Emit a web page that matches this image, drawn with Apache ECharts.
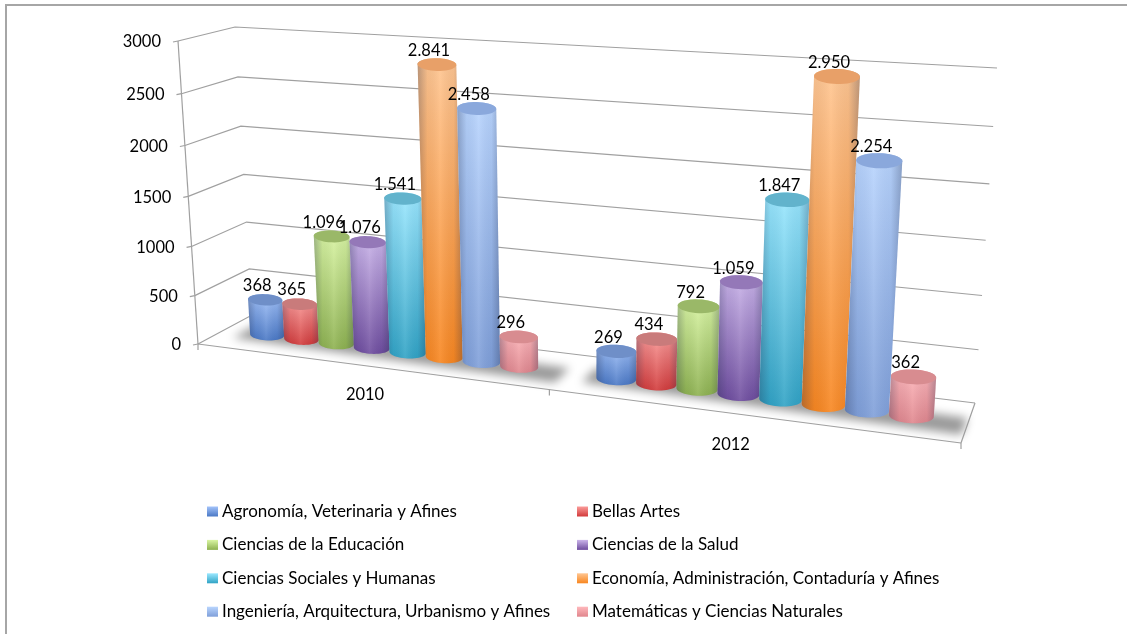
<!DOCTYPE html>
<html><head><meta charset="utf-8">
<style>html,body{margin:0;padding:0;background:#fff}#c{width:1127px;height:634px}</style>
<script src="https://cdn.jsdelivr.net/npm/echarts@6/dist/echarts.min.js"></script>
</head><body><div id="c"></div>
<script>
const categories = ['2010', '2012'];
const fieldNames = ['Agronomía, Veterinaria y Afines','Bellas Artes','Ciencias de la Educación','Ciencias de la Salud','Ciencias Sociales y Humanas','Economía, Administración, Contaduría y Afines','Ingeniería, Arquitectura, Urbanismo y Afines','Matemáticas y Ciencias Naturales'];
const values2010 = [368, 365, 1096, 1076, 1541, 2841, 2458, 296];
const values2012 = [269, 434, 792, 1059, 1847, 2950, 2254, 362];
const yTicks = [0, 500, 1000, 1500, 2000, 2500, 3000];
const capColors = ['#6f8fc8','#c97b7b','#9ab868','#9478b8','#62b3cc','#e8a068','#8aa8dc','#d88c90'];
const topColors = ['#a3c3fa','#fb9c9a','#daf6a4','#cbb5ea','#9ce8ff','#ffc692','#b9d5fe','#ffb8bc'];
const baseColors = ['#4a78c5','#d23a3a','#8db14f','#6e4c9e','#30a3c5','#f8861f','#7f9fd9','#e0868d'];

const FONT = '16.5px Lato, "Open Sans", sans-serif';
const LINE = '#a0a0a0';

// Perspective frame of the 3D box, in screen space
const frontCorners = [[198,344],[961,443],[985,91],[178,41]];
const backCorners  = [[252,315],[975,403],[997,68],[235,27]];
function squareToQuad(q){
  const [[x0,y0],[x1,y1],[x2,y2],[x3,y3]] = q;
  const dx1=x1-x2, dx2=x3-x2, sx=x0-x1+x2-x3, dy1=y1-y2, dy2=y3-y2, sy=y0-y1+y2-y3;
  const den=dx1*dy2-dx2*dy1;
  const g=(sx*dy2-dx2*sy)/den, h=(dx1*sy-sx*dy1)/den;
  const a=x1-x0+g*x1, b=x3-x0+h*x3, d=y1-y0+g*y1, e=y3-y0+h*y3;
  return (u,v)=>{const w=g*u+h*v+1; return [(a*u+b*v+x0)/w,(d*u+e*v+y0)/w];};
}
const front = squareToQuad(frontCorners), back = squareToQuad(backCorners);
function P(u,v,d){const a=front(u,v),b=back(u,v);return [a[0]+(b[0]-a[0])*d,a[1]+(b[1]-a[1])*d];}

const BAR_SLOTS = 9.5, RX = 0.5, RY = 0.165, DEPTH = 0.5, TILT = 0.35;
function uv(api,params,cat,val,slot){
  const cs = params.coordSys, p = api.coord([cat,val]), band = api.size([1,0])[0];
  return {u:(p[0]+slot*band/BAR_SLOTS-cs.x)/cs.width, v:1-(p[1]-cs.y)/cs.height, unit:band/BAR_SLOTS/cs.width};
}
function ellipse(u,v,unit){
  const c=P(u,v,DEPTH), l=P(u-RX*unit,v,DEPTH), r=P(u+RX*unit,v,DEPTH);
  const ax=[(r[0]-l[0])/2,(r[1]-l[1])/2*TILT], ry=RY*(r[0]-l[0]);
  const at=t=>[c[0]+ax[0]*Math.cos(t),c[1]+ax[1]*Math.cos(t)+ry*Math.sin(t)];
  return {c,at};
}
const range=(a,b,n)=>Array.from({length:n+1},(_,i)=>a+(b-a)*i/n);

function barRender(k){
  return function(params,api){
    const cat=api.value(0), val=api.value(1);
    const a=uv(api,params,cat,val,k-3.5);
    const top=ellipse(a.u,a.v,a.unit), bot=ellipse(a.u,0,a.unit);
    const body=[...range(Math.PI,0,24).map(bot.at), ...range(0,Math.PI,24).map(t=>top.at(-t))];
    const cap=range(0,2*Math.PI,40).map(top.at);
    return {type:'group',children:[
      {type:'polygon',shape:{points:body},style:{fill:{type:'linear',x:0,y:0,x2:0,y2:1,colorStops:[{offset:0,color:topColors[k]},{offset:1,color:baseColors[k]}]}}},
      {type:'polygon',shape:{points:body},style:{fill:{type:'linear',x:0,y:0,x2:1,y2:0,colorStops:[{offset:0,color:'rgba(30,40,70,.30)'},{offset:.22,color:'rgba(30,40,70,.05)'},{offset:.5,color:'rgba(255,255,255,.10)'},{offset:.8,color:'rgba(30,40,70,.05)'},{offset:1,color:'rgba(30,40,70,.30)'}]}}},
      {type:'polygon',shape:{points:cap},style:{fill:capColors[k]}}
    ]};
  };
}
const barSeries = fieldNames.map((name,k)=>({
  name, type:'custom', coordinateSystem:'cartesian2d', clip:false, silent:true, z:3,
  itemStyle:{color:{type:'linear',x:0,y:0,x2:0,y2:1,colorStops:[{offset:0,color:topColors[k]},{offset:1,color:baseColors[k]}]}},
  encode:{x:0,y:1},
  data:[[0,values2010[k]],[1,values2012[k]]],
  renderItem:barRender(k)
}));

const gridSeries = {
  type:'custom', coordinateSystem:'cartesian2d', clip:false, silent:true, z:1,
  encode:{x:0,y:1}, data:yTicks.map(t=>[0,t]),
  renderItem(params,api){
    const val=api.value(1), v=uv(api,params,0,val,0).v;
    const a=P(0,v,0), b=P(0,v,1), c=P(1,v,1);
    const kids=[
      {type:'polyline',shape:{points:[a,b,c]},style:{stroke:LINE,lineWidth:1.2,fill:null}},
      {type:'line',shape:{x1:a[0]-5,y1:a[1]+1,x2:a[0],y2:a[1]},style:{stroke:LINE,lineWidth:1.2}},
      {type:'text',style:{text:String(val),x:a[0]-17,y:a[1]+1,align:'right',verticalAlign:'middle',font:FONT,fill:'#000'}}
    ];
    if(params.dataIndex===0){
      const fr=P(1,0,0), br=P(1,0,1), top=P(0,1,0);
      kids.push({type:'line',shape:{x1:a[0],y1:a[1],x2:top[0],y2:top[1]},style:{stroke:LINE,lineWidth:1.2}});
      kids.push({type:'line',shape:{x1:a[0],y1:a[1],x2:fr[0],y2:fr[1]},style:{stroke:LINE,lineWidth:1.2}});
      kids.push({type:'line',shape:{x1:fr[0],y1:fr[1],x2:br[0],y2:br[1]},style:{stroke:LINE,lineWidth:1.2}});
      [0,0.5,1].forEach(u=>{const p=P(u,0,0);kids.push({type:'line',shape:{x1:p[0],y1:p[1],x2:p[0],y2:p[1]+6},style:{stroke:LINE,lineWidth:1.2}});});
    }
    return {type:'group',children:kids};
  }
};

const OFF = 3000;
const shadowSeries = {
  type:'custom', coordinateSystem:'cartesian2d', clip:false, silent:true, z:2,
  encode:{x:0,y:1}, data:categories.map((c,i)=>[i,0]),
  renderItem(params,api){
    const cat=api.value(0);
    const L=uv(api,params,cat,0,-4.2), R=uv(api,params,cat,0,4.7);
    const pts=[P(L.u,0,.3),P(R.u,0,.2),P(R.u,0,.62),P(L.u,0,.72)].map(p=>[p[0]-OFF,p[1]]);
    return {type:'polygon',shape:{points:pts},style:{fill:'#9a9a9a',shadowBlur:10,shadowColor:'#9a9a9a',shadowOffsetX:OFF}};
  }
};

const catLabelShift = [-2, -16];
const catLabelSeries = {
  type:'custom', coordinateSystem:'cartesian2d', clip:false, silent:true, z:2,
  encode:{x:0,y:1}, data:categories.map((c,i)=>[i,0]),
  renderItem(params,api){
    const cat=api.value(0), a=uv(api,params,cat,0,0), p=P(a.u,0,0);
    return {type:'text',style:{text:categories[cat],x:p[0]+catLabelShift[cat],y:p[1]+29,align:'center',verticalAlign:'middle',font:FONT,fill:'#000'}};
  }
};

const labelData=[];
fieldNames.forEach((n,k)=>{labelData.push([0,values2010[k],k]);labelData.push([1,values2012[k],k]);});
const fmt=v=>String(v).replace(/\B(?=(\d{3})+$)/g,'.');
const labelSeries = {
  type:'custom', coordinateSystem:'cartesian2d', clip:false, silent:true, z:5,
  encode:{x:0,y:1}, data:labelData,
  renderItem(params,api){
    const a=uv(api,params,api.value(0),api.value(1),api.value(2)-3.5), p=P(a.u,a.v,DEPTH);
    return {type:'text',style:{text:fmt(api.value(1)),x:p[0]-8,y:p[1]-14,align:'center',verticalAlign:'middle',font:FONT,fill:'#000'}};
  }
};

const legendCommon={orient:'vertical',itemWidth:11,itemHeight:10,itemGap:16.4,icon:'rect',selectedMode:false,top:503,padding:0,
  textStyle:{fontFamily:'Lato',fontSize:17,color:'#000',padding:[0,0,0,-1]}};

const chart=echarts.init(document.getElementById('c'));
chart.setOption({
  animation:false,
  backgroundColor:'#fff',
  graphic:[{type:'polyline',shape:{points:[[6,634],[6,5],[1127,5]]},style:{fill:'none',stroke:'#a6a6a6',lineWidth:2},silent:true,z:0}],
  grid:{left:100,right:100,top:50,bottom:200},
  xAxis:{type:'category',data:categories,show:false},
  yAxis:{type:'value',min:0,max:3000,interval:500,show:false},
  legend:[
    {...legendCommon,left:207,data:fieldNames.filter((n,i)=>i%2===0)},
    {...legendCommon,left:577,data:fieldNames.filter((n,i)=>i%2===1)}
  ],
  series:[gridSeries,shadowSeries,catLabelSeries,...barSeries,labelSeries]
});
</script></body></html>
